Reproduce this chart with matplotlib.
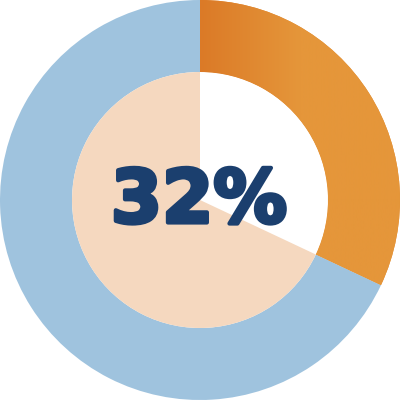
import matplotlib.pyplot as plt
import numpy as np
from matplotlib.colors import LinearSegmentedColormap
import matplotlib.patheffects as pe

share = [32, 68]
label = "32%"
outerColors = ["#E28A33", "#9FC3DE"]
innerColors = ["#FFFFFF", "#F5D8BF"]

fig = plt.figure(figsize=(4, 4), dpi=100)
ax = fig.add_axes([0, 0, 1, 1])

outerWedges, _ = ax.pie(share, radius=1.0, colors=outerColors, startangle=90,
                        counterclock=False, wedgeprops=dict(width=0.36, linewidth=0))
innerWedges, _ = ax.pie(share, radius=0.64, colors=innerColors, startangle=90,
                        counterclock=False, wedgeprops=dict(linewidth=0))

# orange gradient, left to right
cmap = LinearSegmentedColormap.from_list("orange", ["#DB7A27", "#E5963A", "#E5963A"])
grad = np.linspace(0, 1, 256).reshape(1, -1)
img = ax.imshow(grad, cmap=cmap, extent=[0, 1, -1, 1], aspect="auto", zorder=3)
img.set_clip_path(outerWedges[0])

ax.text(-0.005, -0.01, label, ha="center", va="center", fontsize=53,
        fontweight="bold", family="DejaVu Sans", color="#1B3F6E", zorder=5,
        path_effects=[pe.withStroke(linewidth=3, foreground="#1B3F6E")])

ax.set_xlim(-1, 1)
ax.set_ylim(-1, 1)
ax.set_aspect("equal")
ax.axis("off")

fig.savefig("out.png", dpi=100)
